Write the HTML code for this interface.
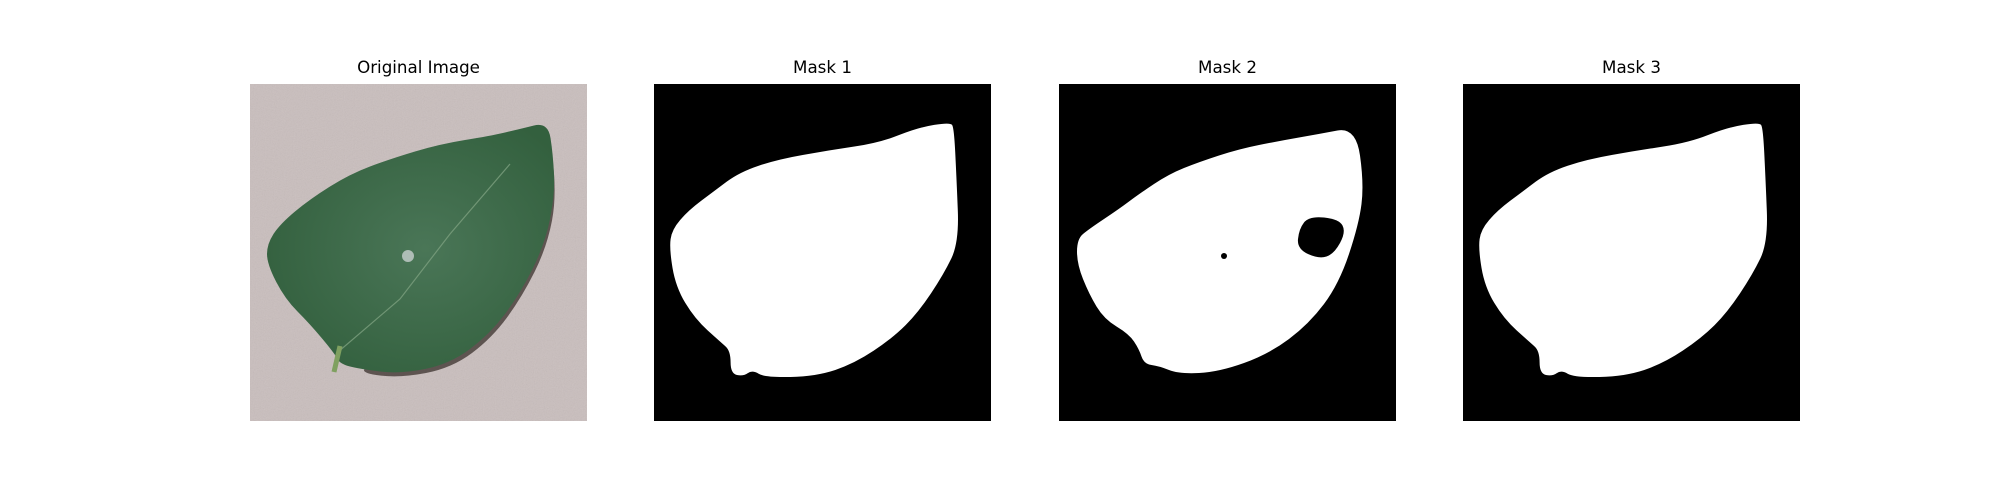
<!DOCTYPE html>
<html>
<head>
<meta charset="utf-8">
<style>
  html, body { margin:0; padding:0; background:#fff; }
  #fig { position:relative; width:2000px; height:500px; background:#fff; overflow:hidden; }
  .panel { position:absolute; top:84px; width:337px; height:337px; }
  .title { position:absolute; top:57px; width:337px; text-align:center;
           font-family:"DejaVu Sans","Liberation Sans",sans-serif; font-size:16.7px; color:#000; line-height:20px; }
  svg { display:block; }
</style>
</head>
<body>
<div id="fig">
  <div class="title" style="left:250px">Original Image</div>
  <div class="title" style="left:654px">Mask 1</div>
  <div class="title" style="left:1059px">Mask 2</div>
  <div class="title" style="left:1463px">Mask 3</div>

  <div class="panel" style="left:250px">
    <svg width="337" height="337" viewBox="0 0 337 337">
      <defs>
        <filter id="noise">
          <feTurbulence type="fractalNoise" baseFrequency="0.9" numOctaves="2" seed="3"/>
          <feColorMatrix type="saturate" values="0"/>
          <feComponentTransfer><feFuncA type="linear" slope="0.18"/></feComponentTransfer>
          <feComposite in2="SourceGraphic" operator="in"/>
        </filter>
        <radialGradient id="lg" cx="0.55" cy="0.5" r="0.6">
          <stop offset="0" stop-color="#4a7657"/>
          <stop offset="1" stop-color="#33603e"/>
        </radialGradient>
      </defs>
      <rect width="337" height="337" fill="#c9bebd"/>
      <rect width="337" height="337" fill="#fff" filter="url(#noise)"/>
      <path class="smooth" fill="#3a302c" opacity="0.75" data-pts="298,42 307,110 297,163 272,213 242,254 202,284 150,294 110,289 120,280 200,276 240,246 268,206 293,158 303,110"/>
      <path class="smooth" fill="url(#lg)" data-pts="298,38 303,70 305,110 295,160 270,210 240,250 200,280 150,290 110,285 90,280 85,270 60,240 35,215 17,180 17,160 30,140 60,115 100,90 140,75 190,60 240,52 270,45"/>
      <path stroke="#7da07f" stroke-width="1.2" fill="none" opacity="0.8" d="M88,268 L150,215 L200,150 L260,80"/>
      <circle cx="158" cy="172" r="6" fill="#aebdb6"/>
      <path stroke="#7fa060" stroke-width="5" fill="none" d="M90,262 L84,288"/>
    </svg>
  </div>

  <div class="panel" style="left:654px">
    <svg width="337" height="337" viewBox="0 0 264 264">
      <rect width="264" height="264" fill="#000"/>
      <path class="smooth" fill="#fff" data-pts="232,30 235,34 237,74 239,124 227,149 207,179 187,199 157,219 127,229 87,230 77,224 70,229 60,227 60,209 52,202 32,184 17,159 12,129 14,114 27,99 47,84 67,69 97,59 137,52 177,46 207,34"/>
    </svg>
  </div>

  <div class="panel" style="left:1059px">
    <svg width="337" height="337" viewBox="0 0 337 337">
      <rect width="337" height="337" fill="#000"/>
      <path class="smooth" fill="#fff" data-pts="297,43 305,100 300,140 280,200 250,240 210,270 160,288 120,290 100,282 85,280 80,265 70,250 45,235 30,210 18,180 18,155 30,145 60,125 80,110 110,90 140,78 180,65 220,57 260,50"/>
      <path class="smooth" fill="#000" data-pts="240,145 250,132 280,135 287,148 275,170 260,175 238,165"/>
      <circle cx="165" cy="172" r="3" fill="#000"/>
    </svg>
  </div>

  <div class="panel" style="left:1463px">
    <svg width="337" height="337" viewBox="0 0 264 264">
      <rect width="264" height="264" fill="#000"/>
      <path class="smooth" fill="#fff" data-pts="232,30 235,34 237,74 239,124 227,149 207,179 187,199 157,219 127,229 87,230 77,224 70,229 60,227 60,209 52,202 32,184 17,159 12,129 14,114 27,99 47,84 67,69 97,59 137,52 177,46 207,34"/>
    </svg>
  </div>
</div>
<script>
  document.querySelectorAll('path.smooth').forEach(function(p){
    var pts = p.getAttribute('data-pts').trim().split(/\s+/).map(function(s){return s.split(',').map(Number);});
    var n = pts.length;
    function mid(a,b){return [(a[0]+b[0])/2,(a[1]+b[1])/2];}
    var m0 = mid(pts[n-1], pts[0]);
    var d = 'M' + m0[0] + ',' + m0[1];
    for (var i=0;i<n;i++){
      var c = pts[i], m = mid(pts[i], pts[(i+1)%n]);
      d += ' Q' + c[0] + ',' + c[1] + ' ' + m[0] + ',' + m[1];
    }
    p.setAttribute('d', d + ' Z');
  });
</script>
</body>
</html>
